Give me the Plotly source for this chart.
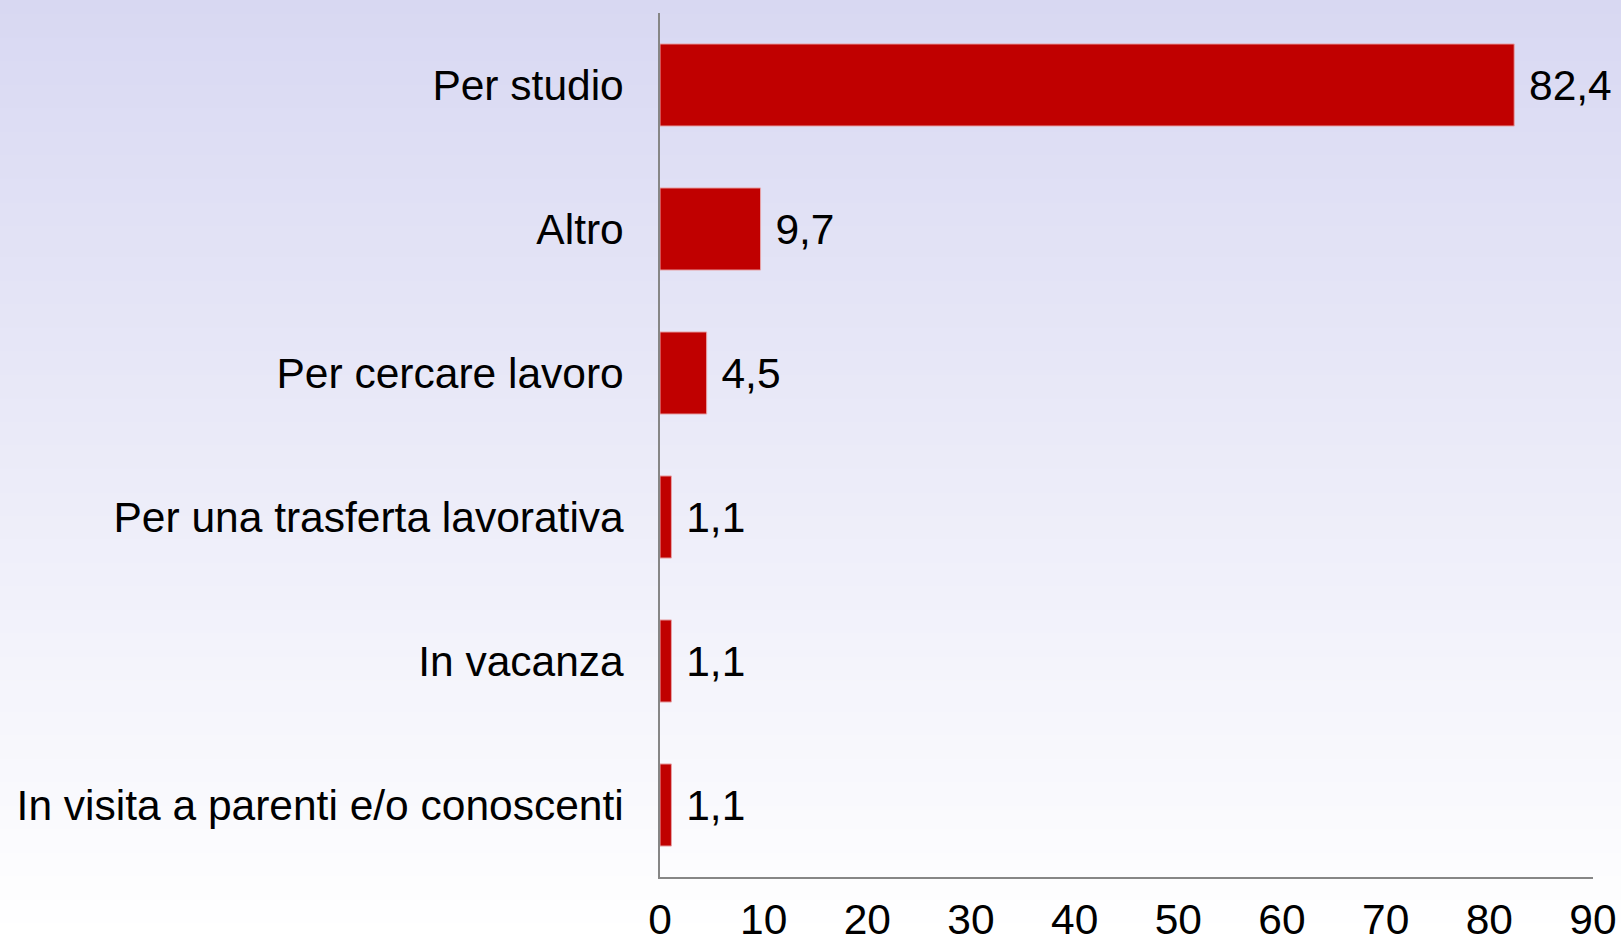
import plotly.graph_objects as go

# --- DONNÉES ---
categories = [
    "Per studio",
    "Altro",
    "Per cercare lavoro",
    "Per una trasferta lavorativa",
    "In vacanza",
    "In visita a parenti e/o conoscenti",
]
valori = [82.4, 9.7, 4.5, 1.1, 1.1, 1.1]
tick_vals = [0, 10, 20, 30, 40, 50, 60, 70, 80, 90]

W, H = 1621, 941
m_l, m_r, m_t, m_b = 660, 28, 13, 64
pw, ph = W - m_l - m_r, H - m_t - m_b

fig = go.Figure(go.Bar(
    x=valori,
    y=categories,
    orientation="h",
    marker=dict(color="#C00000", line=dict(color="#e7a3a8", width=1)),
    texttemplate=" %{x:.1f}",
    textposition="outside",
    textfont=dict(size=42.5, color="black"),
    cliponaxis=False,
    hoverinfo="skip",
))

# fond dégradé (lavande -> blanc), bandes horizontales sur toute la figure
top = (216, 216, 242)
bot = (255, 255, 255)
n = 120
shapes = []
x0, x1 = -m_l / pw, 1 + m_r / pw
y_lo, y_hi = -m_b / ph, 1 + m_t / ph
for i in range(n):
    t = i / (n - 1)
    c = tuple(round(top[k] + (bot[k] - top[k]) * t) for k in range(3))
    ya = y_hi - (y_hi - y_lo) * i / n
    yb = y_hi - (y_hi - y_lo) * (i + 1) / n
    shapes.append(dict(
        type="rect", xref="paper", yref="paper",
        x0=x0 - 0.01, x1=x1 + 0.01, y0=yb, y1=ya + 0.002,
        fillcolor="rgb(%d,%d,%d)" % c, line=dict(width=0), layer="below",
    ))

fig.update_layout(
    width=W, height=H,
    margin=dict(l=m_l, r=m_r, t=m_t, b=m_b, pad=0, autoexpand=False),
    paper_bgcolor="white",
    plot_bgcolor="rgba(0,0,0,0)",
    font=dict(family="Liberation Sans, Arial", size=42.5, color="black"),
    separators=",.",
    shapes=shapes,
    bargap=0.43,
    showlegend=False,
)
fig.update_xaxes(
    range=[0, 90], tickvals=tick_vals, showgrid=False, zeroline=False,
    showline=True, linecolor="#868686", linewidth=1.5,
    ticks="", ticklabelstandoff=4, automargin=False,
)
fig.update_yaxes(
    autorange="reversed", showgrid=False, zeroline=False,
    showline=True, linecolor="#868686", linewidth=1.5,
    ticks="", ticklabelstandoff=26, automargin=False,
)

# pas de marge autour du graphique dans la page
fig.write_html(
    "out.html",
    config={"displayModeBar": False},
    post_script="document.body.style.margin='0';document.body.style.overflow='hidden';",
)
